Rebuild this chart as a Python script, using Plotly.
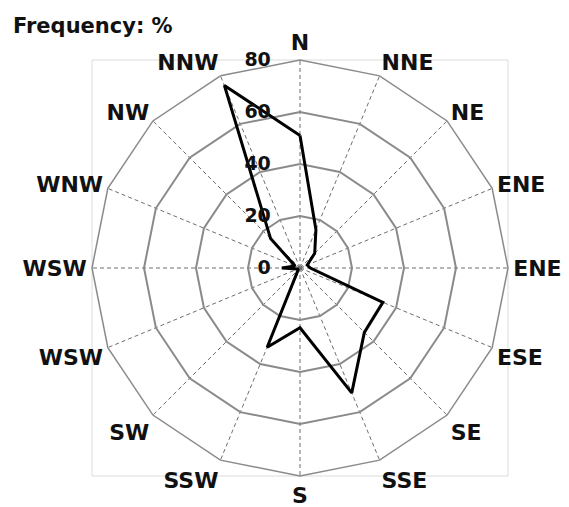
import plotly.graph_objects as go

directions = ["N", "NNE", "NE", "ENE", "E", "ESE", "SE", "SSE",
              "S", "SSW", "SW", "WSW", "W", "WNW", "NW", "NNW"]
labels = ["N", "NNE", "NE", "ENE", "ENE", "ESE", "SE", "SSE",
          "S", "SSW", "SW", "WSW", "WSW", "WNW", "NW", "NNW"]
freq = [51, 16, 8, 3, 4, 34.5, 35, 52, 23, 33, 1, 1, 7, 2, 16, 76]
radial_ticks = [0, 20, 40, 60, 80]

FONT = "DejaVu Sans"

fig = go.Figure(
    go.Scatterpolar(
        r=freq + [freq[0]],
        theta=directions + [directions[0]],
        mode="lines",
        line=dict(color="black", width=3),
        hoverinfo="skip",
        showlegend=False,
    )
)

# the page body has an 8px margin, so the figure is drawn at (8, 8)
fig.update_layout(
    width=561,
    height=499,
    margin=dict(l=84, r=61, t=52, b=31),
    paper_bgcolor="white",
    plot_bgcolor="white",
    title=dict(
        text="Frequency: %",
        x=5 / 561,
        xanchor="left",
        y=1 - 18 / 499,
        yanchor="middle",
        font=dict(family=FONT, size=21, color="#111", weight="bold"),
    ),
    polar=dict(
        domain=dict(x=[0, 1], y=[0, 1]),
        gridshape="linear",
        bgcolor="white",
        angularaxis=dict(
            type="category",
            categoryarray=directions,
            direction="clockwise",
            rotation=90,
            tickmode="array",
            tickvals=directions,
            ticktext=labels,
            tickfont=dict(family=FONT, size=22, color="#111", weight="bold"),
            showline=True,
            linecolor="#8a8a8a",
            linewidth=1.5,
            showgrid=True,
            gridcolor="#6e6e6e",
            gridwidth=1,
            griddash="4px,3px",
            ticks="",
        ),
        radialaxis=dict(
            range=[0, 80],
            tickmode="array",
            tickvals=radial_ticks,
            angle=90,
            side="counterclockwise",
            tickangle=90,
            tickfont=dict(family=FONT, size=19, color="#111", weight="bold"),
            showline=False,
            showgrid=True,
            gridcolor="#8a8a8a",
            gridwidth=1.5,
            ticks="outside",
            ticklen=22,
            tickcolor="rgba(0,0,0,0)",
        ),
    ),
    shapes=[
        dict(type="rect", xref="paper", yref="paper", x0=0, x1=1, y0=0, y1=1,
             line=dict(color="#dcdcdc", width=1), layer="below")
    ],
)

fig.write_html("out.html")
